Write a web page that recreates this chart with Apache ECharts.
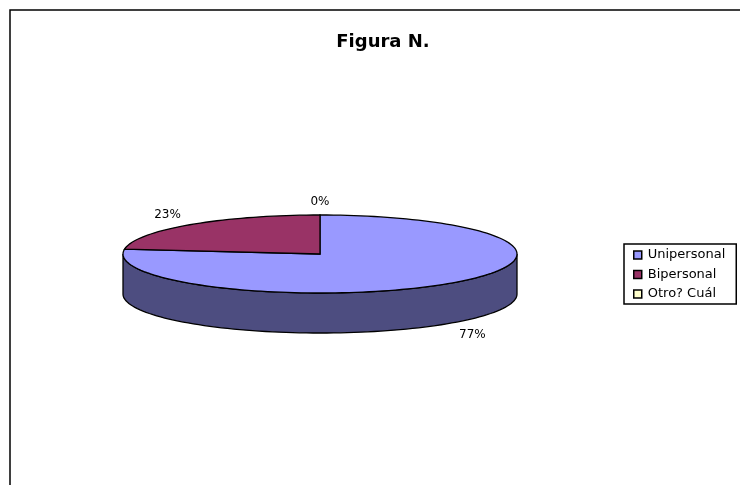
<!DOCTYPE html>
<html><head><meta charset="utf-8">
<style>html,body{margin:0;padding:0;background:#fff}#c{width:740px;height:485px}</style>
<script src="https://cdn.jsdelivr.net/npm/echarts@6/dist/echarts.min.js"></script>
</head><body><div id="c"></div>
<script>
const categories = ['Unipersonal', 'Bipersonal', 'Otro? Cuál'];
const seriesValues = [77, 23, 0];
const topColors = ['#9999ff', '#993366', '#ffffcc'];
const sideColors = ['#4d4d80', '#4d1a33', '#808066'];

const cx = 320, cy = 254, rx = 197, ry = 39, depth = 40;
const total = seriesValues.reduce((a, b) => a + b, 0);
const font = '"DejaVu Sans", sans-serif';

function pt(deg, dy) {
  const a = deg * Math.PI / 180;
  return [cx + rx * Math.sin(a), cy - ry * Math.cos(a) + (dy || 0)];
}
function arc(from, to, dy) {
  const pts = [];
  const n = Math.max(1, Math.ceil(Math.abs(to - from) / 2));
  for (let i = 0; i <= n; i++) pts.push(pt(from + (to - from) * i / n, dy));
  return pts;
}
function makeRender(index) {
  return function (params, api) {
    const value = api.value(0);
    let start = 0;
    for (let i = 0; i < index; i++) start += seriesValues[i];
    const a0 = start / total * 360, a1 = (start + value) / total * 360;
    const children = [];
    const lo = Math.max(a0, 90), hi = Math.min(a1, 270);
    if (hi > lo) {
      children.push({
        type: 'polygon', z2: 1,
        shape: { points: arc(lo, hi, 0).concat(arc(hi, lo, depth)) },
        style: { fill: sideColors[index], stroke: '#000', lineWidth: 1.3 }
      });
    }
    if (a1 > a0) {
      children.push({
        type: 'polygon', z2: 2,
        shape: { points: [[cx, cy]].concat(arc(a0, a1, 0)) },
        style: { fill: topColors[index], stroke: '#000', lineWidth: 1.3 }
      });
    }
    const mid = (a0 + a1) / 2, m = mid * Math.PI / 180;
    const front = Math.cos(m) < 0;
    children.push({
      type: 'text', z2: 3,
      style: {
        x: cx + rx * 1.17 * Math.sin(m),
        y: cy - ry * 1.37 * Math.cos(m) + (front ? depth : 0) + 1,
        text: Math.round(value / total * 100) + '%',
        fill: '#000', font: '12px ' + font, align: 'center', verticalAlign: 'middle'
      }
    });
    return { type: 'group', children };
  };
}

const chart = echarts.init(document.getElementById('c'), null, { renderer: 'canvas' });
chart.setOption({
  animation: false,
  backgroundColor: '#fff',
  title: {
    text: 'Figura N.', left: 378, top: 28, textAlign: 'center',
    textStyle: { color: '#000', fontFamily: font, fontSize: 18, fontWeight: 'bold' }
  },
  legend: {
    orient: 'vertical', left: 624, top: 244,
    padding: [4, 11, 3, 9], itemGap: 5.5, itemWidth: 8, itemHeight: 8,
    borderColor: '#000', borderWidth: 1.5, backgroundColor: '#fff',
    icon: 'rect', data: categories,
    itemStyle: { borderColor: '#000', borderWidth: 1.5 },
    textStyle: { color: '#000', fontFamily: font, fontSize: 13, padding: [0, 0, 0, 1], lineHeight: 14 }
  },
  graphic: [
    { type: 'polyline', silent: true, z: -1,
      shape: { points: [[10, 485], [10, 10], [740, 10]] },
      style: { stroke: '#000', lineWidth: 1.5, fill: 'none' } }
  ],
  series: categories.map((name, i) => ({
    type: 'custom', name, coordinateSystem: 'none',
    itemStyle: { color: topColors[i] },
    data: [[seriesValues[i]]],
    encode: { value: 0 },
    renderItem: makeRender(i),
    z: 2 + i, silent: true
  }))
});
</script></body></html>
